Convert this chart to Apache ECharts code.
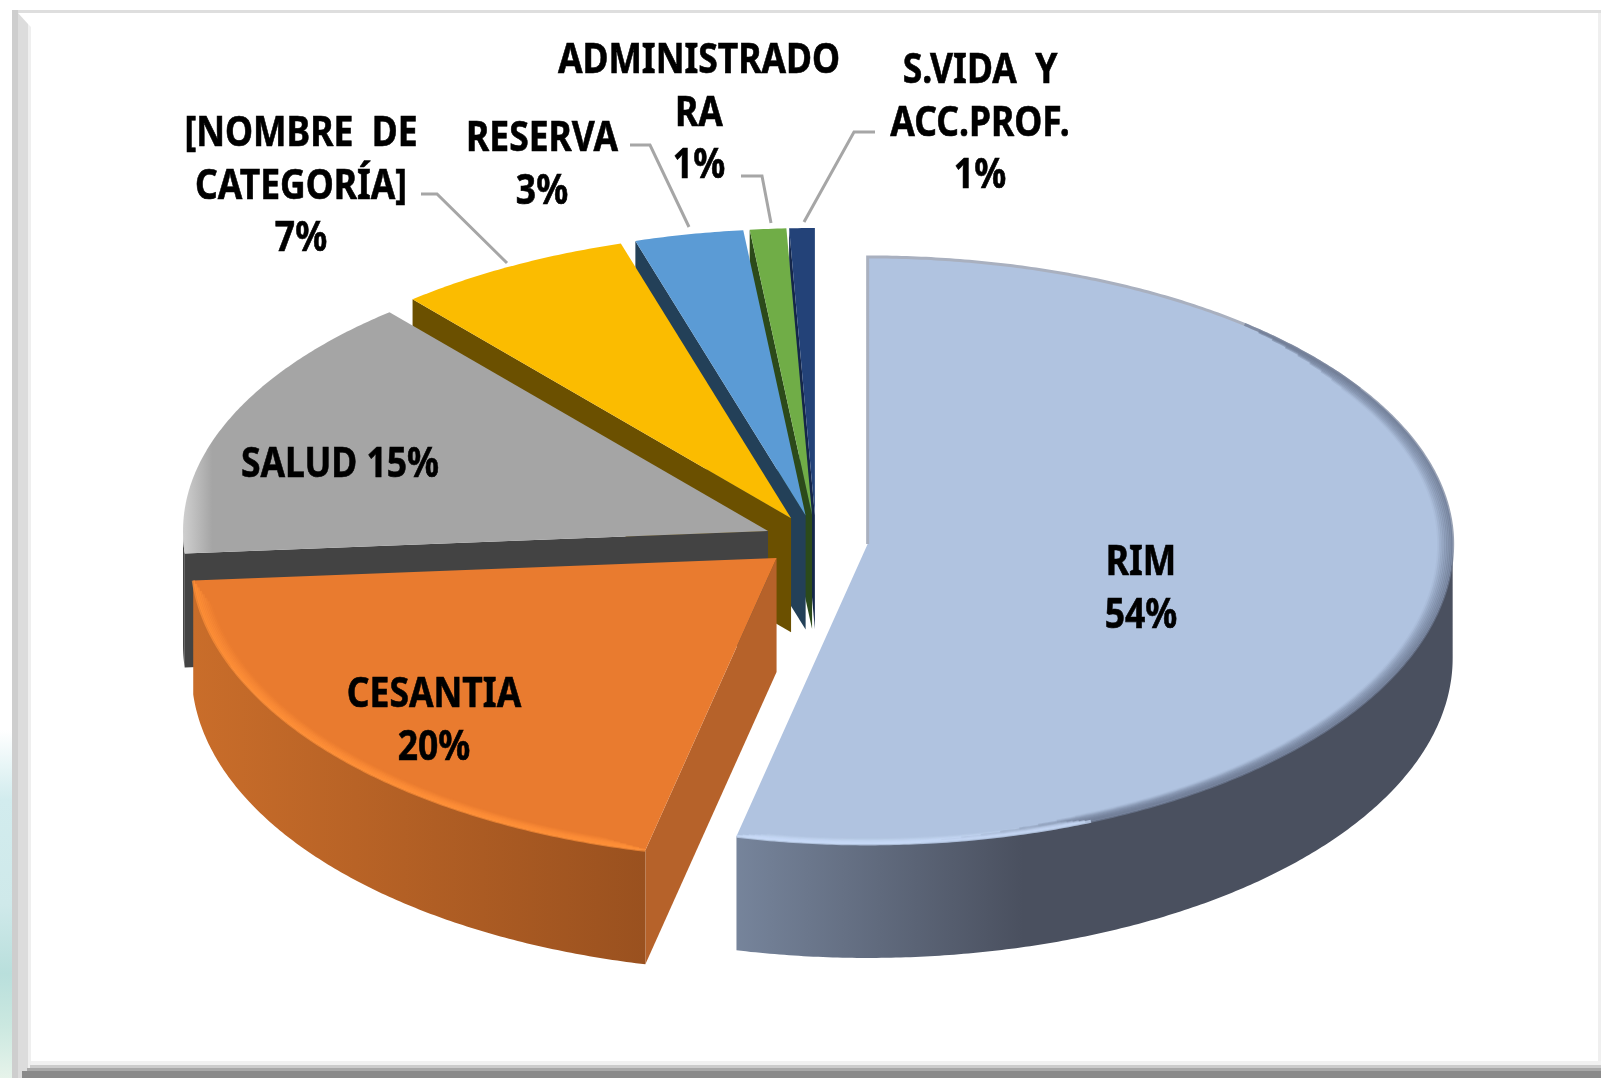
<!DOCTYPE html>
<html>
<head>
<meta charset="utf-8">
<style>
html, body { margin: 0; padding: 0; background: #fff; }
#chart { width: 1601px; height: 1078px; }
</style>
<script src="https://cdn.jsdelivr.net/npm/echarts@6/dist/echarts.min.js"></script>
</head>
<body>
<div id="chart"></div>
<script>
// valores (% aprox.), sentido horario desde las 12
var categories = ['RIM', 'CESANTIA', 'SALUD', '[NOMBRE  DE\nCATEGORÍA]', 'RESERVA', 'ADMINISTRADO\nRA', 'S.VIDA  Y\nACC.PROF.'];
var values = [53.6, 20.2, 15.0, 6.5, 3.0, 1.0, 0.7];

var topColors = ['#b0c3e0', '#e97b2f', '#a5a5a5', '#fbbc00', '#5b9bd5', '#70ad47', '#234278'];
var faceColors = ['#4a505f', '#b6622a', '#434343', '#6b5000', '#234058', '#2c4a1a', '#14264a'];

// labels: centro del texto y linea guia
var labelCenters = [[1141, 590], [434, 722], [340, 465], [301, 187], [542, 166], [699, 114], [980, 124]];
var separators = [', ', ', ', ' ', ', ', ', ', ', ', ', '];
var leaders = [null, null, null,
    [[421, 194], [437, 194], [507, 263]],
    [[630, 145], [650, 145], [689, 227]],
    [[741, 176], [762, 176], [771, 223]],
    [[875, 132], [854, 132], [804, 222]]];

// geometria de la torta 3D
var cx = 816, cy = 541;
var rx = 585, ryBack = 287, ryFront = 300;
var depth = 114, explode = 52;
var LG = echarts.graphic.LinearGradient;

var total = values.reduce(function (a, b) { return a + b; }, 0);
var slices = [];
var acc = 0;
values.forEach(function (v, i) {
    var t0 = acc / total * 2 * Math.PI;
    acc += v;
    var t1 = acc / total * 2 * Math.PI;
    var mid = (t0 + t1) / 2;
    slices.push({
        t0: t0, t1: t1,
        ax: cx + explode * Math.sin(mid),
        ay: cy - explode * 0.5 * Math.cos(mid)
    });
});

function pt(s, t, r, dy) {
    var c = Math.cos(t);
    return [s.ax + rx * r * Math.sin(t), s.ay - (c > 0 ? ryBack : ryFront) * r * c + (dy || 0)];
}

function arc(s, from, to, r, dy) {
    var pts = [];
    var n = Math.max(2, Math.ceil((to - from) * 120));
    for (var i = 0; i <= n; i++) {
        pts.push(pt(s, from + (to - from) * i / n, r, dy));
    }
    return pts;
}

function wallFill(i) {
    if (i === 0) {
        return new LG(0, 0, 1, 0, [{ offset: 0, color: '#76849b' }, { offset: 0.4, color: '#4a505f' }, { offset: 1, color: '#4a505f' }]);
    }
    if (i === 1) {
        return new LG(0, 0, 1, 0, [{ offset: 0, color: '#c96d2a' }, { offset: 1, color: '#9a511f' }]);
    }
    return faceColors[i];
}

function topFill(i) {
    if (i === 2) {
        return new LG(0, 0, 1, 0, [{ offset: 0, color: '#cfcfcf' }, { offset: 0.05, color: '#a5a5a5' }, { offset: 1, color: '#a5a5a5' }]);
    }
    return topColors[i];
}

// borde biselado: cada capa mas adentro es mas corta y mas tenue
function rimLines(s, from, to, color, steps, taper, out) {
    for (var k = 0; k < steps; k++) {
        out.push({
            type: 'polyline',
            shape: { points: arc(s, from + k * taper, to - k * taper, 1 - k * 0.003) },
            style: { stroke: color, lineWidth: 3, fill: null, opacity: 0.7 * (1 - k / steps) }
        });
    }
}

function renderSlice(params, api) {
    var i = values.length - 1 - params.dataIndex;   // se pinta de atras hacia adelante
    var s = slices[i];
    var apex = [s.ax, s.ay];
    var kids = [];

    // cara de corte
    if (s.t0 > Math.PI) {
        var tip = pt(s, s.t0, 1);
        kids.push({
            type: 'polygon',
            shape: { points: [apex, tip, [tip[0], tip[1] + depth], [apex[0], apex[1] + depth]] },
            style: { fill: faceColors[i] }
        });
    }
    // pared exterior
    var a = Math.max(s.t0, Math.PI / 2), b = Math.min(s.t1, Math.PI * 1.5);
    if (b > a) {
        kids.push({
            type: 'polygon',
            shape: { points: arc(s, a, b, 1).concat(arc(s, a, b, 1, depth).reverse()) },
            style: { fill: wallFill(i) }
        });
    }
    // cara superior
    kids.push({
        type: 'polygon',
        shape: { points: [apex].concat(arc(s, s.t0, s.t1, 1)) },
        style: { fill: topFill(i) }
    });

    if (i === 0) {
        kids.push({
            type: 'polyline',
            shape: { points: [apex].concat(arc(s, 0, 1.0, 1)) },
            style: { stroke: '#a9b0bf', lineWidth: 3, fill: null }
        });
        rimLines(s, 0.7, 3.05, '#6f7c95', 9, 0.035, kids);
        rimLines(s, 2.75, s.t1, '#c9dbf8', 6, 0.01, kids);
    }
    if (i === 1) {
        rimLines(s, s.t0, s.t1, '#ff9038', 8, 0.012, kids);
    }
    return { type: 'group', children: kids };
}

function renderLabel(params, api) {
    var i = params.dataIndex;
    var pct = Math.round(values[i]) + '%';
    var c = labelCenters[i];
    var kids = [{
        type: 'text',
        x: c[0], y: c[1],
        scaleX: 0.865,
        style: {
            text: categories[i] + (separators[i] === ' ' ? ' ' : '\n') + pct,
            fontFamily: '"Noto Sans"',
            fontWeight: 'bold',
            fontSize: 41,
            lineHeight: 52.5,
            fill: '#000',
            stroke: '#000',
            lineWidth: 0.6,
            textAlign: 'center',
            textVerticalAlign: 'middle'
        }
    }];
    if (leaders[i]) {
        kids.push({
            type: 'polyline',
            shape: { points: leaders[i] },
            style: { stroke: '#a6a6a6', lineWidth: 3, fill: null }
        });
    }
    return { type: 'group', children: kids };
}

var myChart = echarts.init(document.getElementById('chart'), null, { renderer: 'canvas' });

var option = {
    backgroundColor: '#fff',
    animation: false,
    graphic: [
        // marco
        { type: 'rect', z: -5, shape: { x: 0, y: 730, width: 12, height: 348 }, style: {
            fill: new LG(0, 0, 0, 1, [
                { offset: 0, color: '#ffffff' }, { offset: 0.2, color: '#d2ecee' }, { offset: 0.5, color: '#cfe9ea' },
                { offset: 0.7, color: '#b9dfdc' }, { offset: 0.85, color: '#cbe8e0' }, { offset: 1, color: '#e6f3ea' }])
        } },
        { type: 'rect', z: -5, shape: { x: 12, y: 10, width: 1589, height: 3 }, style: { fill: '#dedede' } },
        { type: 'rect', z: -5, shape: { x: 12, y: 10, width: 6, height: 1068 }, style: { fill: '#cecece' } },
        { type: 'polygon', z: -5, shape: { points: [[18, 13], [28, 24], [28, 1078], [18, 1078]] }, style: { fill: '#dcdcdc' } },
        { type: 'polygon', z: -5, shape: { points: [[28, 24], [31, 27], [31, 1078], [28, 1078]] }, style: { fill: '#efefef' } },
        { type: 'rect', z: -5, shape: { x: 1598, y: 13, width: 3, height: 1050 }, style: { fill: '#efefef' } },
        { type: 'rect', z: -4, shape: { x: 31, y: 1061, width: 1570, height: 4 }, style: { fill: '#f1f1f1' } },
        { type: 'rect', z: -4, shape: { x: 30, y: 1065, width: 1571, height: 3 }, style: { fill: '#cccccc' } },
        { type: 'rect', z: -4, shape: { x: 27, y: 1068, width: 1574, height: 3 }, style: { fill: '#a8a8a8' } },
        { type: 'rect', z: -4, shape: { x: 22, y: 1071, width: 1579, height: 7 }, style: { fill: '#8a8a8a' } }
    ],
    series: [{
        type: 'custom',
        name: 'torta',
        coordinateSystem: 'none',
        clip: false,
        silent: true,
        renderItem: renderSlice,
        data: values.slice().reverse()
    }, {
        type: 'custom',
        name: 'etiquetas',
        coordinateSystem: 'none',
        clip: false,
        silent: true,
        z: 5,
        renderItem: renderLabel,
        data: values
    }]
};

myChart.setOption(option);
</script>
</body>
</html>
